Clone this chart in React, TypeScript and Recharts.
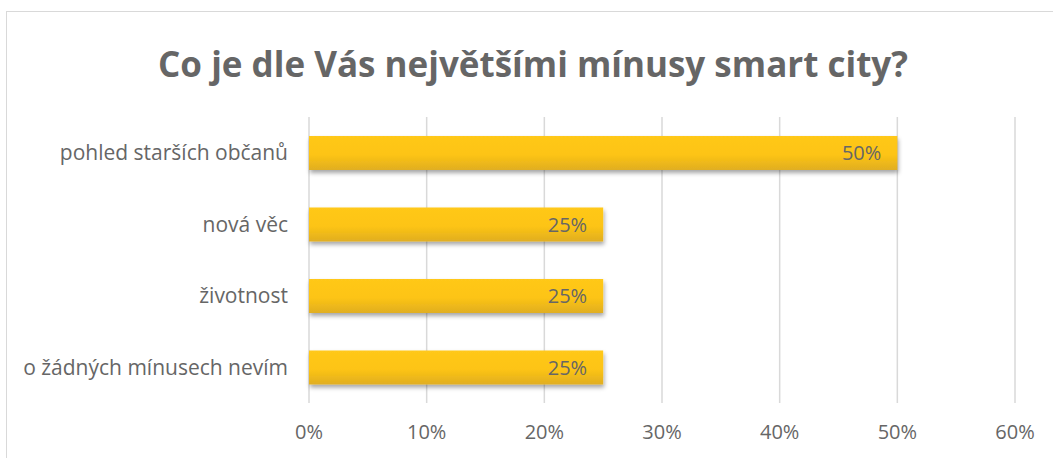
import React from 'react';
import { BarChart, Bar, XAxis, YAxis, CartesianGrid, LabelList } from 'recharts';

const categories = ['pohled starších občanů', 'nová věc', 'životnost', 'o žádných mínusech nevím'];
const shares = [0.5, 0.25, 0.25, 0.25];
const xTicks = [0, 0.1, 0.2, 0.3, 0.4, 0.5, 0.6];

const data = categories.map((name, i) => ({ name, value: shares[i] }));

const pct = (v: number) => `${Math.round(v * 100)}%`;
const font = '"Open Sans", sans-serif';
const textColor = '#666666';

export default function App() {
  return (
    <div style={{ position: 'absolute', left: 0, top: 0, width: 1053, height: 458, overflow: 'hidden', background: '#fff', fontFamily: font }}>
      <div style={{ position: 'absolute', left: 6, top: 11, width: 1060, height: 470, border: '1.5px solid #d9d9d9', boxSizing: 'border-box' }} />
      <div style={{ position: 'absolute', left: 0, top: 39, width: 1066, textAlign: 'center', fontSize: 35, lineHeight: '50px', fontWeight: 700, color: textColor }}>
        Co je dle Vás největšími mínusy smart city?
      </div>
      <div style={{ position: 'absolute', left: 0, top: 0 }}>
        <BarChart
          width={1053}
          height={458}
          data={data}
          layout="vertical"
          margin={{ top: 117, right: 38, left: 0, bottom: 0 }}
          barSize={34}
        >
          <defs>
            <linearGradient id="barFill" x1="0" y1="0" x2="0" y2="1">
              <stop offset="0%" stopColor="#ffc81a" />
              <stop offset="55%" stopColor="#fdc413" />
              <stop offset="100%" stopColor="#e0ae22" />
            </linearGradient>
            <filter id="barShadow" x="-5%" y="-20%" width="110%" height="160%">
              <feDropShadow dx="1" dy="3" stdDeviation="2" floodColor="#000" floodOpacity="0.35" />
            </filter>
          </defs>
          <CartesianGrid horizontal={false} stroke="#d9d9d9" strokeWidth={1.5} />
          <XAxis
            type="number"
            domain={[0, 0.6]}
            ticks={xTicks}
            tickFormatter={pct}
            axisLine={false}
            tickLine={false}
            tickSize={0}
            tickMargin={22}
            height={55}
            tick={{ fill: textColor, fontSize: 20, fontFamily: font }}
          />
          <YAxis
            type="category"
            dataKey="name"
            width={309}
            axisLine={false}
            tickLine={false}
            tickSize={0}
            tickMargin={21}
            tick={{ fill: textColor, fontSize: 21, fontFamily: font }}
          />
          <Bar dataKey="value" fill="url(#barFill)" filter="url(#barShadow)" isAnimationActive={false}>
            <LabelList
              dataKey="value"
              position="insideRight"
              offset={16}
              formatter={(v: any) => pct(Number(v))}
              style={{ fill: textColor, fontSize: 20, fontFamily: font }}
            />
          </Bar>
        </BarChart>
      </div>
    </div>
  );
}
